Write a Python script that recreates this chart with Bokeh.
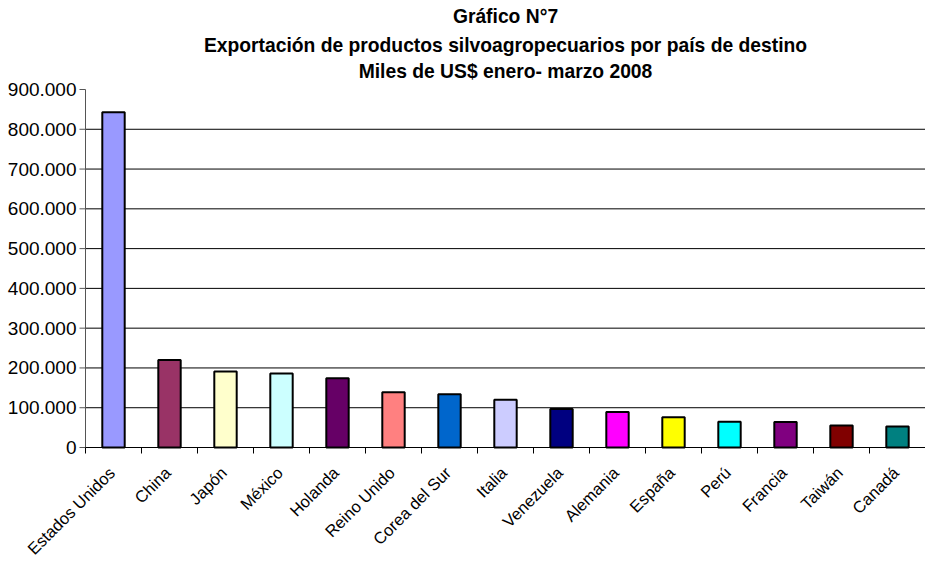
import math
from bokeh.plotting import figure
from bokeh.models import ColumnDataSource, Range1d, LabelSet
from bokeh.core.properties import value
from bokeh.embed import file_html
from bokeh.resources import INLINE

title_lines = [
    "Gráfico N°7",
    "Exportación de productos silvoagropecuarios por país de destino",
    "Miles de US$ enero- marzo 2008",
]
countries = ["Estados Unidos", "China", "Japón", "México", "Holanda", "Reino Unido",
             "Corea del Sur", "Italia", "Venezuela", "Alemania", "España", "Perú",
             "Francia", "Taiwán", "Canadá"]
values = [843000, 220000, 191000, 186000, 174000, 139000, 134000, 120000,
          97000, 89000, 76000, 65000, 64000, 55000, 53000]
colors = ["#9999FF", "#993366", "#FFFFCC", "#CCFFFF", "#660066", "#FF8080",
          "#0066CC", "#CCCCFF", "#000080", "#FF00FF", "#FFFF00", "#00FFFF",
          "#800080", "#800000", "#008080"]
y_ticks = [0, 100000, 200000, 300000, 400000, 500000, 600000, 700000, 800000, 900000]
y_tick_labels = ["0", "100.000", "200.000", "300.000", "400.000", "500.000",
                 "600.000", "700.000", "800.000", "900.000"]

n = len(countries)
xs = [i + 0.5 for i in range(n)]
bounds_x = list(range(n + 1))
y_max = y_ticks[-1]

# layout in pixels
W, H = 925, 556
LEFT = 85          # space left of the category area (for value labels)
TITLE_H = 89       # title block above the plot area
PLOT_H = 358       # height of the value range 0..y_max
below_px = H - TITLE_H - PLOT_H
x_start = -n * LEFT / (W - LEFT)
y_start = -y_max * below_px / PLOT_H
y_end = y_max + y_max * TITLE_H / PLOT_H

bars = ColumnDataSource(data=dict(x=xs, top=values, color=colors, name=countries,
                                  base=[0] * n))
yl = ColumnDataSource(data=dict(y=y_ticks, text=y_tick_labels, x=[0] * len(y_ticks)))
grid = ColumnDataSource(data=dict(y=y_ticks[1:-1], x0=[0] * (len(y_ticks) - 2),
                                  x1=[n] * (len(y_ticks) - 2)))
xt = ColumnDataSource(data=dict(x=bounds_x, y=[0] * (n + 1)))

p = figure(width=W, height=H, output_backend="svg", toolbar_location=None,
           x_range=Range1d(x_start, n), y_range=Range1d(y_start, y_end), title=None,
           x_axis_location=None, y_axis_location=None,
           min_border_left=0, min_border_right=0, min_border_bottom=0, min_border_top=0)
p.outline_line_color = None
p.background_fill_color = "white"
p.xgrid.visible = False
p.ygrid.visible = False

# title block (three centred bold lines above the plot area)
title_src = ColumnDataSource(data=dict(text=title_lines, x=[n / 2] * 3, y=[y_max] * 3,
                                       off=[67, 38, 12]))
p.add_layout(LabelSet(x="x", y="y", text="text", source=title_src, y_offset="off",
                      x_offset=0, text_align="center", text_baseline="alphabetic",
                      text_font=value("Liberation Sans"), text_font_size=value("19.3px"),
                      text_font_style="bold", text_color="black"))

# horizontal grid lines
p.segment(x0="x0", x1="x1", y0="y", y1="y", source=grid, line_color="black", line_width=1)

# bars
p.vbar(x="x", top="top", bottom="base", width=0.4, fill_color="color",
       line_color="black", line_width=2, source=bars)

# value axis: line, ticks, labels
p.segment(x0=0, y0=0, x1=0, y1=y_max, line_color="#555555", line_width=1)
p.ray(x="x", y="y", source=yl, length=6, length_units="screen", angle=math.pi,
      line_color="#555555", line_width=1)
p.add_layout(LabelSet(x="x", y="y", text="text", source=yl, x_offset=-9,
                      text_align="right", text_baseline="middle",
                      text_font=value("Liberation Sans"), text_font_size=value("19px"),
                      text_color="black"))

# category axis: line, ticks between categories, rotated labels
p.segment(x0=0, y0=0, x1=n, y1=0, line_color="black", line_width=1)
p.ray(x="x", y="y", source=xt, length=6, length_units="screen", angle=-math.pi / 2,
      line_color="black", line_width=1)
p.add_layout(LabelSet(x="x", y="base", text="name", source=bars, angle=math.pi / 4,
                      x_offset=-8, y_offset=-16, text_align="right", text_baseline="top",
                      text_font=value("Liberation Sans"), text_font_size=value("16.5px"),
                      text_color="black"))

open("out.html", "w").write(file_html(p, INLINE))
